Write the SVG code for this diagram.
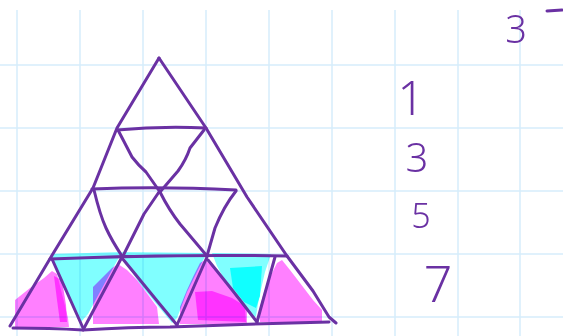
<svg xmlns="http://www.w3.org/2000/svg" width="563" height="336" viewBox="0 0 563 336">
<style>
.grid line{stroke:#d6edfb;stroke-width:1.5}
.ink{fill:none;stroke:#6a31a3;stroke-width:3;stroke-linecap:round;stroke-linejoin:round}
.cy{fill:#80ffff;mix-blend-mode:multiply}
.cy2{fill:#20ffff;mix-blend-mode:multiply}
.mg{fill:#ff80ff;mix-blend-mode:multiply}
.mg2{fill:#ff40ff;mix-blend-mode:multiply;opacity:.8}
.num{font-family:"Noto Sans","DejaVu Sans",sans-serif;font-weight:300;fill:#6a31a3;text-anchor:middle}
</style>
<rect width="563" height="336" fill="#fff"/>
<g class="grid" id="grid">
<line x1="17" y1="10" x2="17" y2="336"/><line x1="80" y1="10" x2="80" y2="336"/><line x1="143" y1="10" x2="143" y2="336"/><line x1="206" y1="10" x2="206" y2="336"/><line x1="269" y1="10" x2="269" y2="336"/><line x1="332" y1="10" x2="332" y2="336"/><line x1="395" y1="10" x2="395" y2="336"/><line x1="458" y1="10" x2="458" y2="336"/><line x1="520" y1="10" x2="520" y2="336"/>
<line x1="0" y1="65" x2="563" y2="65"/><line x1="0" y1="128" x2="563" y2="128"/><line x1="0" y1="191" x2="563" y2="191"/><line x1="0" y1="254" x2="563" y2="254"/><line x1="0" y1="317" x2="563" y2="317"/>
</g>
<g id="fills">
<path class="cy" d="M51,254 L122,252 L112,270 L100,292 L88,314 L81,322 L70,300 L58,276 Z"/>
<path class="cy" d="M122,252 L207,253 L199,268 L187,292 L177,318 L172,323 L158,306 L140,284 L128,266 Z"/>
<path class="cy" d="M212,253 L271,254 L265,272 L259,298 L256,316 L253,318 L244,306 L228,286 L217,266 Z"/>
<path class="cy2" d="M230,268 L262,266 L260,296 L256,308 L244,302 L233,288 Z"/>
<path class="mg" d="M15,300 L30,288 L44,278 L52,271 L57,274 L61,290 L65,306 L68,318 L69,327 L15,327 Z"/>
<path class="mg2" d="M54,276 L62,280 L66,305 L67,322 L60,322 L57,300 Z"/>
<path class="mg" d="M93,287 L101,279 L112,268 L118,264 L127,270 L137,280 L149,296 L157,307 L159,324 L93,324 Z"/>
<path class="mg" d="M180,307 L187,290 L193,277 L200,263 L205,260 L213,267 L227,283 L240,300 L247,310 L247,324 L180,324 Z"/>
<path class="mg2" d="M195,292 L212,291 L232,298 L245,306 L246,322 L198,320 Z"/>
<path class="mg" d="M260,307 L264,292 L270,277 L277,263 L282,260 L290,270 L300,283 L313,300 L322,310 L322,322 L260,322 Z"/>
</g>
<g id="connectors" class="ink">
<path d="M159,58 L117,128 L93,188 L51,257 L10,326"/>
<path d="M159,58 L206,128 L247,197 L287,256 L313,291 L329,317 L336,323"/>
<path d="M117,130 Q160,126 206,128"/>
<path d="M92,189 Q160,186 236,190"/>
<path d="M50,259 Q170,254 287,256"/>
<path d="M13,328 Q50,328 83,330 Q130,327 170,327 Q250,324 329,322"/>
<path d="M118,130 L132,157 Q139,166 146,172 L160,192"/>
<path d="M204,130 L190,148 Q186,160 178,171 L160,192"/>
<path d="M94,190 Q100,215 106,228 Q112,241 122,256"/>
<path d="M159,192 L144,214 L123,256"/>
<path d="M160,192 Q169,210 180,224 L207,256"/>
<path d="M236,191 Q224,206 215,228 L207,256"/>
<path d="M52,259 L83,328"/>
<path d="M122,257 L83,330"/>
<path d="M122,258 Q140,280 158,302 L177,325"/>
<path d="M207,257 L177,325"/>
<path d="M208,260 Q226,282 240,300 L257,322"/>
<path d="M275,257 L257,322"/>
<path d="M547,11 L562,10"/>
</g>
<g id="labels">
<text class="num" x="516" y="43" font-size="38">3</text>
<text class="num" x="411" y="115" font-size="47">1</text>
<text class="num" x="417" y="172" font-size="40">3</text>
<text class="num" x="421" y="228" font-size="34">5</text>
<text class="num" x="438" y="302" font-size="50">7</text>
</g>
</svg>
